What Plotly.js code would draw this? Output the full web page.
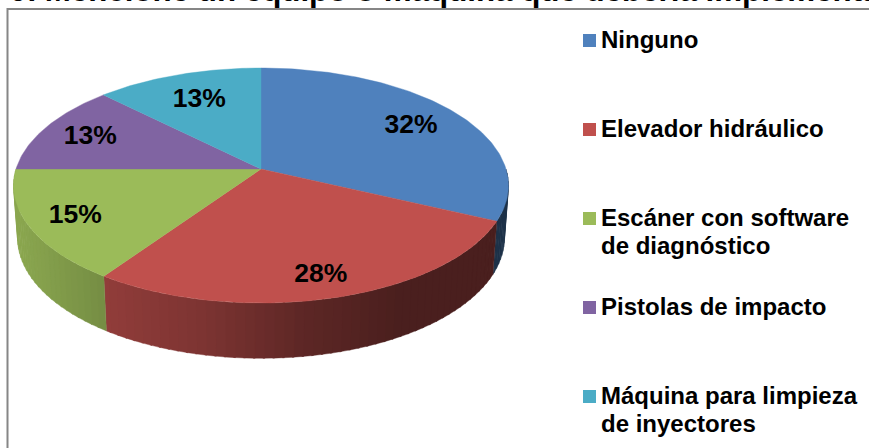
<!DOCTYPE html>
<html><head><meta charset="utf-8">
<script src="https://cdn.plot.ly/plotly-3.0.1.min.js"></script>
<style>html,body{margin:0;padding:0;background:#fff;overflow:hidden}#c{width:869px;height:448px}</style>
</head><body><div id="c"></div>
<script>
const categories = ['Ninguno','Elevador hidráulico','Escáner con software<br>de diagnóstico','Pistolas de impacto','Máquina para limpieza<br>de inyectores'];
const values = [32,27.6,15.4,12.5,12.5];
const colors = ['#4f81bd','#c0504d','#9bbb59','#8064a2','#4bacc6'];
const titleText = '9. Mencione un equipo o máquina que debería implementarse';

const total = values.reduce((a,b)=>a+b,0);
const topDisc = {cx:261, cy:169, R:245, S:115.2, k:0.1405};
const lowDisc = {cx:261, cy:221, R:241, S:118, k:0.1405};
const labelFrac = [.78,.81,.80,.795,.745];
function proj(d, deg, f=1){
  const t = deg*Math.PI/180, w = 1+d.k*Math.cos(t);
  return [d.cx + f*d.R*Math.sin(t)/w, d.cy - f*d.S*Math.cos(t)/w];
}
function shade(x){
  const xs=[20,100,200,300,400,900], fs=[.89,.76,.65,.49,.385,.385];
  for(let i=1;i<xs.length;i++) if(x<=xs[i]){
    const u=Math.max(0,(x-xs[i-1])/(xs[i]-xs[i-1])); return fs[i-1]+u*(fs[i]-fs[i-1]);
  }
  return .385;
}
function scaled(hex,s){
  const n=parseInt(hex.slice(1),16);
  return 'rgb('+[(n>>16)&255,(n>>8)&255,n&255].map(c=>Math.round(c*s)).join(',')+')';
}
const traces=[];
const bounds=[0]; values.forEach((v,i)=>bounds.push(bounds[i]+v/total*360));

// side wall strips
values.forEach((v,i)=>{
  const a=Math.max(bounds[i],90), b=Math.min(bounds[i+1],270);
  for(let t=a;t<b;t+=2){
    const e=Math.min(t+2.4,b);
    const p=[proj(topDisc,t),proj(topDisc,e),proj(lowDisc,e),proj(lowDisc,t)];
    const mx=(p[0][0]+p[1][0])/2;
    const col=scaled(colors[i],shade(mx));
    traces.push({type:'scatter',mode:'lines',x:p.map(q=>q[0]).concat(p[0][0]),y:p.map(q=>q[1]).concat(p[0][1]),
      fill:'toself',fillcolor:col,line:{color:col,width:0.4},hoverinfo:'skip',showlegend:false});
  }
});
// top faces
values.forEach((v,i)=>{
  const xs=[topDisc.cx], ys=[topDisc.cy];
  for(let t=bounds[i];t<bounds[i+1];t+=1){const q=proj(topDisc,t);xs.push(q[0]);ys.push(q[1]);}
  const q=proj(topDisc,bounds[i+1]);xs.push(q[0],topDisc.cx);ys.push(q[1],topDisc.cy);
  traces.push({type:'scatter',mode:'lines',x:xs,y:ys,fill:'toself',fillcolor:colors[i],
    line:{color:colors[i],width:0.4},name:categories[i].replace('<br>',' '),showlegend:false,hoverinfo:'name'});
});
// data labels
const lab=values.map((v,i)=>proj(topDisc,(bounds[i]+bounds[i+1])/2,labelFrac[i]));
traces.push({type:'scatter',mode:'text',x:lab.map(q=>q[0]),y:lab.map(q=>q[1]+2),
  text:values.map(v=>Math.round(v)+'%'),textposition:'middle center',
  textfont:{family:'Liberation Sans',size:26.5,color:'#000',weight:700},hoverinfo:'skip',showlegend:false});
// legend
const legTop=40.5, legStep=89, legX=589.5, lineStep=28;
traces.push({type:'scatter',mode:'markers',x:values.map(()=>legX),y:values.map((v,i)=>legTop+i*legStep),
  marker:{symbol:'square',size:13,color:colors,line:{width:0}},hoverinfo:'skip',showlegend:false});
const anns=[];
categories.forEach((c,i)=>c.split('<br>').forEach((ln,j)=>anns.push({xref:'x',yref:'y',x:600,y:legTop+i*legStep+j*lineStep-1,
  xanchor:'left',yanchor:'middle',align:'left',showarrow:false,text:'<b>'+ln+'</b>',borderpad:0,
  font:{family:'Liberation Sans',size:24,color:'#000'}})));
anns.push({xref:'x',yref:'y',x:0,y:0,xanchor:'left',yanchor:'top',showarrow:false,borderpad:0,xshift:9,yshift:28.5,
  text:'<b>'+titleText+'</b>',font:{family:'Liberation Sans',size:31.3,color:'#000'}});
const ax={range:[0,869],visible:false,fixedrange:true};
Plotly.newPlot('c',traces,{
  width:869,height:448,margin:{l:0,r:0,t:0,b:0},paper_bgcolor:'#fff',plot_bgcolor:'#fff',showlegend:false,
  xaxis:Object.assign({},ax,{domain:[0,1]}),
  yaxis:Object.assign({},ax,{range:[448,0],domain:[0,1]}),
  shapes:[{type:'rect',layer:'below',xref:'x',yref:'y',x0:7.5,y0:9,x1:900,y1:500,line:{color:'#868686',width:2},fillcolor:'#fff'}],
  annotations:anns
},{displayModeBar:false});
</script></body></html>
